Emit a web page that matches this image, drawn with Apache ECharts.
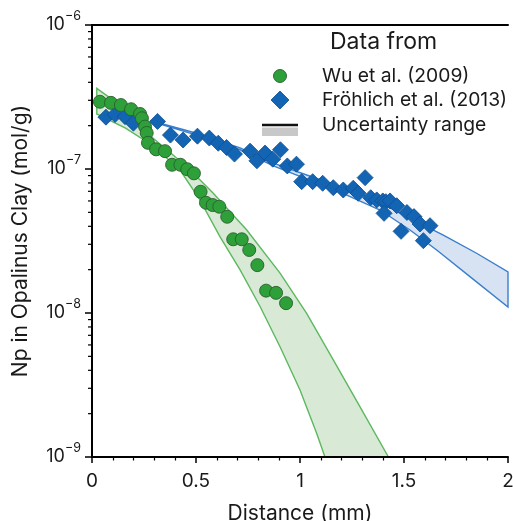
<!DOCTYPE html>
<html><head><meta charset="utf-8">
<script src="https://cdn.jsdelivr.net/npm/echarts@6/dist/echarts.min.js"></script>
<style>html,body{margin:0;padding:0;background:#fff}#c{width:513px;height:521px}</style>
</head><body><div id="c"></div>
<script>
// Wu et al. (2009)
const wuX = [0.038,0.091,0.139,0.188,0.231,0.240,0.255,0.263,0.269,0.308,0.351,0.385,0.425,0.458,0.490,0.522,0.548,0.580,0.612,0.650,0.679,0.720,0.756,0.795,0.837,0.885,0.933];
const wuY = [2.93e-7,2.88e-7,2.78e-7,2.60e-7,2.41e-7,2.25e-7,1.97e-7,1.78e-7,1.52e-7,1.37e-7,1.33e-7,1.07e-7,1.07e-7,9.96e-8,9.33e-8,6.95e-8,5.83e-8,5.62e-8,5.47e-8,4.66e-8,3.25e-8,3.25e-8,2.74e-8,2.15e-8,1.43e-8,1.38e-8,1.17e-8];
// Fröhlich et al. (2013)
const frX = [0.067,0.111,0.159,0.199,0.315,0.377,0.438,0.507,0.564,0.607,0.647,0.685,0.760,0.793,0.832,0.869,0.906,0.939,0.983,1.008,1.061,1.109,1.160,1.208,1.256,1.280,1.313,1.340,1.369,1.398,1.413,1.433,1.465,1.404,1.514,1.548,1.577,1.625,1.486,1.593];
const frY = [2.29e-7,2.39e-7,2.31e-7,2.08e-7,2.14e-7,1.72e-7,1.59e-7,1.69e-7,1.64e-7,1.51e-7,1.41e-7,1.27e-7,1.33e-7,1.14e-7,1.29e-7,1.17e-7,1.36e-7,1.05e-7,1.08e-7,8.17e-8,8.17e-8,7.96e-8,7.42e-8,7.15e-8,7.35e-8,6.78e-8,8.71e-8,6.32e-8,6.10e-8,6.00e-8,5.93e-8,6.00e-8,5.56e-8,4.92e-8,4.99e-8,4.67e-8,4.15e-8,4.04e-8,3.69e-8,3.18e-8];
// Uncertainty range, Wu
const gUpX = [0.023,0.078,0.183,0.287,0.455,0.583,0.744,0.904,1.032,1.160,1.288,1.425];
const gUpY = [3.63e-7,3.18e-7,2.41e-7,1.67e-7,1.04e-7,6.78e-8,3.77e-8,1.89e-8,9.95e-9,4.72e-9,2.24e-9,1.0e-9];
const gLoX = [0.023,0.159,0.293,0.423,0.519,0.615,0.712,0.808,0.904,1.000,1.080,1.120];
const gLoY = [2.41e-7,1.93e-7,1.45e-7,9.84e-8,6.10e-8,3.39e-8,1.99e-8,1.11e-8,5.83e-9,2.92e-9,1.46e-9,1.0e-9];
// Uncertainty range, Fröhlich
const bUpX = [0.280,0.327,0.503,0.712,0.872,1.032,1.192,1.352,1.513,1.689,1.849,2.0];
const bUpY = [2.16e-7,2.08e-7,1.77e-7,1.40e-7,1.10e-7,9.09e-8,7.54e-8,6.20e-8,4.67e-8,3.48e-8,2.60e-8,1.93e-8];
const bLoX = [0.280,0.327,0.503,0.712,0.872,1.064,1.225,1.385,1.529,1.657,1.817,2.0];
const bLoY = [2.16e-7,2.05e-7,1.72e-7,1.36e-7,1.05e-7,8.17e-8,6.59e-8,5.19e-8,3.77e-8,2.74e-8,1.79e-8,1.10e-8];
// log-axis minor tick values
const yMinor = [2e-9,3e-9,4e-9,5e-9,6e-9,7e-9,8e-9,9e-9,2e-8,3e-8,4e-8,5e-8,6e-8,7e-8,8e-8,9e-8,2e-7,3e-7,4e-7,5e-7,6e-7,7e-7,8e-7,9e-7];
const legendTitle = 'Data from';
const legendNames = ['Wu et al. (2009)','Fröhlich et al. (2013)','Uncertainty range'];

const FONT = 'Inter';
const TXT = '#1a1a1a';
const chart = echarts.init(document.getElementById('c'));

function band(upX, upY, loX, loY, fill, stroke) {
  return {
    type: 'custom', silent: true, z: 1, clip: false,
    data: [[upX[0], upY[0]]],
    renderItem: function (params, api) {
      const up = upX.map((x, i) => api.coord([x, upY[i]]));
      const lo = loX.map((x, i) => api.coord([x, loY[i]]));
      return {
        type: 'polygon',
        shape: { points: up.concat(lo.slice().reverse()) },
        style: { fill: fill, stroke: stroke, lineWidth: 1.4 }
      };
    }
  };
}

const option = {
  animation: false,
  grid: { left: 92, right: 5, top: 25, bottom: 64, containLabel: false, outerBoundsMode: 'none' },
  xAxis: [{
    type: 'value', min: 0, max: 2, interval: 0.5, z: 5,
    name: 'Distance (mm)', nameLocation: 'middle', nameGap: 46,
    nameTextStyle: { fontFamily: FONT, fontSize: 21, color: TXT },
    axisLine: { lineStyle: { color: '#000', width: 2 } },
    axisTick: { length: 6, lineStyle: { color: '#000', width: 1.5 } },
    minorTick: { show: true, splitNumber: 5, length: 3.5, lineStyle: { color: '#000', width: 1.2 } },
    splitLine: { show: false },
    axisLabel: { fontFamily: FONT, fontSize: 19, color: TXT, margin: 15 }
  }, {
    type: 'value', min: 0, max: 2, position: 'top', z: 5,
    axisLine: { show: true, lineStyle: { color: '#000', width: 2 } },
    axisTick: { show: false }, axisLabel: { show: false }, splitLine: { show: false }
  }],
  yAxis: [{
    type: 'log', logBase: 10, min: 1e-9, max: 1e-6, z: 5,
    name: 'Np in Opalinus Clay (mol/g)', nameLocation: 'middle', nameGap: 61,
    nameTextStyle: { fontFamily: FONT, fontSize: 21, color: TXT },
    axisLine: { show: true, lineStyle: { color: '#000', width: 2 } },
    axisTick: { show: true, length: 7, lineStyle: { color: '#000', width: 1.5 } },
    splitLine: { show: false },
    axisLabel: {
      margin: 11,
      formatter: function (v) {
        const e = Math.round(Math.log10(v));
        return '{b|10}{s|\u2212' + (-e) + '}';
      },
      rich: {
        b: { fontFamily: FONT, fontSize: 18, color: TXT, lineHeight: 30 },
        s: { fontFamily: FONT, fontSize: 12.5, color: TXT, lineHeight: 12, verticalAlign: 'top' }
      }
    }
  }, {
    type: 'log', logBase: 10, min: 1e-9, max: 1e-6, position: 'right', z: 5,
    axisLine: { show: true, lineStyle: { color: '#000', width: 2 } },
    axisTick: { show: false }, axisLabel: { show: false }, splitLine: { show: false }
  }],
  series: [
    band(gUpX, gUpY, gLoX, gLoY, 'rgba(214,232,211,0.95)', '#5cb85f'),
    band(bUpX, bUpY, bLoX, bLoY, 'rgba(213,225,242,0.95)', '#3a7fcc'),
    {
      type: 'custom', silent: true, clip: false, z: 6,
      data: yMinor.map(v => [0, v]),
      renderItem: function (params, api) {
        const p = api.coord([0, api.value(1)]);
        return { type: 'line', shape: { x1: p[0] - 4, y1: p[1], x2: p[0], y2: p[1] },
                 style: { stroke: '#000', lineWidth: 1.2 } };
      }
    },
    {
      name: legendNames[1], type: 'scatter', symbol: 'diamond', symbolSize: 16, z: 3,
      data: frX.map((x, i) => [x, frY[i]]),
      itemStyle: { color: '#1464b4', borderColor: '#0d4f93', borderWidth: 0.8, opacity: 1 }
    },
    {
      name: legendNames[0], type: 'scatter', symbol: 'circle', symbolSize: 13, z: 4,
      data: wuX.map((x, i) => [x, wuY[i]]),
      itemStyle: { color: '#2ea03a', borderColor: '#2a5e2c', borderWidth: 0.9, opacity: 1 }
    }
  ],
  graphic: [
    { type: 'text', x: 330, y: 42, style: { text: legendTitle, font: '23px ' + FONT, fill: TXT, verticalAlign: 'middle' } },
    { type: 'circle', shape: { cx: 280, cy: 76, r: 6.5 }, style: { fill: '#2ea03a', stroke: '#2a5e2c', lineWidth: 0.9 } },
    { type: 'text', x: 322, y: 76, style: { text: legendNames[0], font: '19.3px ' + FONT, fill: TXT, verticalAlign: 'middle' } },
    { type: 'polygon', shape: { points: [[280, 91], [289, 100], [280, 109], [271, 100]] }, style: { fill: '#1464b4', stroke: '#0d4f93', lineWidth: 0.8 } },
    { type: 'text', x: 322, y: 100, style: { text: legendNames[1], font: '19.3px ' + FONT, fill: TXT, verticalAlign: 'middle' } },
    { type: 'rect', shape: { x: 262, y: 127.5, width: 36, height: 8.5 }, style: { fill: '#c8c8c8' } },
    { type: 'line', shape: { x1: 262, y1: 125, x2: 298, y2: 125 }, style: { stroke: '#111', lineWidth: 2.5 } },
    { type: 'text', x: 322, y: 125, style: { text: legendNames[2], font: '19.3px ' + FONT, fill: TXT, verticalAlign: 'middle' } }
  ]
};
chart.setOption(option);
</script>
</body></html>
